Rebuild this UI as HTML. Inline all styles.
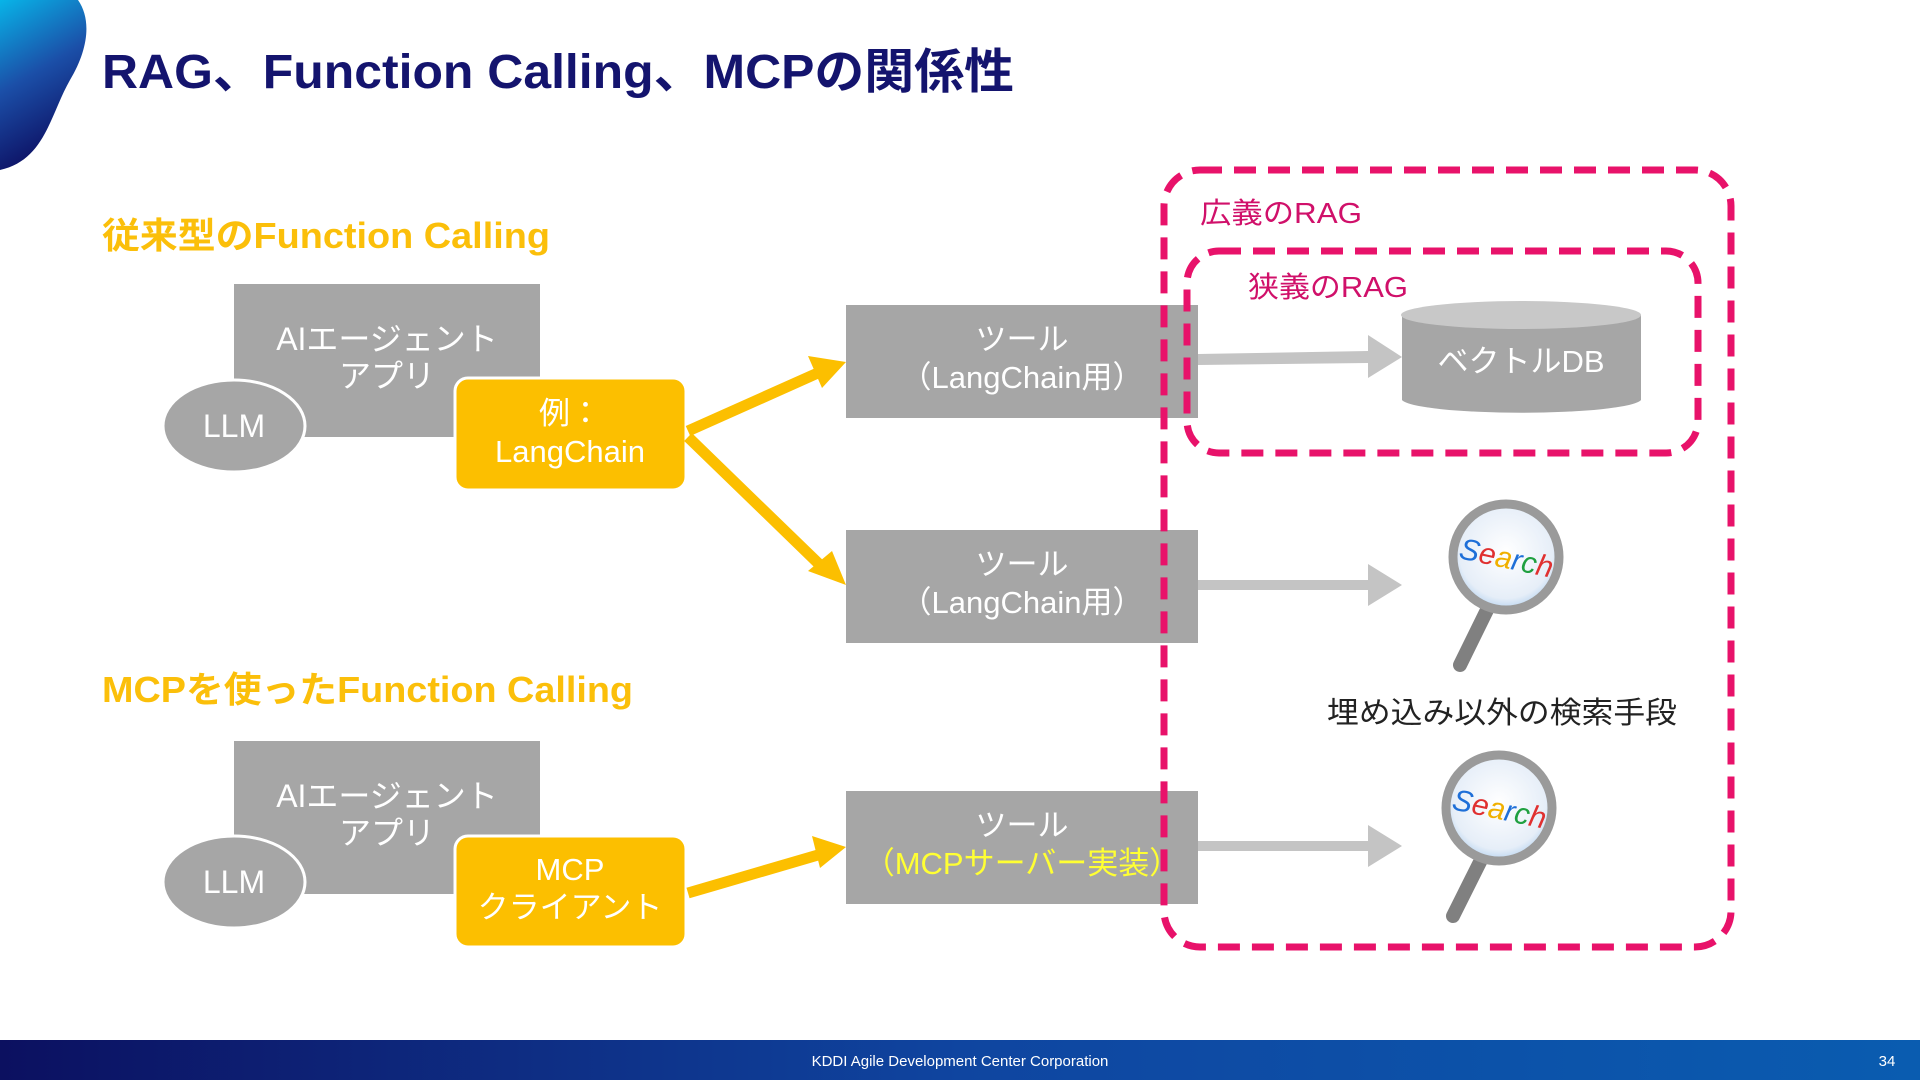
<!DOCTYPE html>
<html><head><meta charset="utf-8">
<style>
html,body{margin:0;padding:0;background:#fff;}
svg{display:block;font-family:"Liberation Sans","Noto Sans CJK JP",sans-serif;}
</style></head><body>
<svg width="1920" height="1080" viewBox="0 0 1920 1080" xmlns="http://www.w3.org/2000/svg">
<defs>
<linearGradient id="blob" x1="0" y1="0" x2="0.3" y2="1"><stop offset="0" stop-color="#08b4e8"/><stop offset="0.5" stop-color="#1b4fa8"/><stop offset="1" stop-color="#0d0f62"/></linearGradient>
<linearGradient id="foot" x1="0" y1="0" x2="1" y2="0"><stop offset="0" stop-color="#0c1060"/><stop offset="0.5" stop-color="#0f45a0"/><stop offset="1" stop-color="#0a5cb0"/></linearGradient>
<radialGradient id="lens" cx="0.5" cy="0.45" r="0.55"><stop offset="0" stop-color="#ffffff"/><stop offset="0.8" stop-color="#e6eef8"/><stop offset="1" stop-color="#b8d4f0"/></radialGradient>
</defs>
<path d="M0,0 L78,0 C92,20 88,50 70,80 C50,115 45,160 0,170 Z" fill="url(#blob)"/>
<text x="102" y="88" font-size="48" font-weight="bold" fill="#14146e" textLength="912" lengthAdjust="spacingAndGlyphs">RAG、Function Calling、MCPの関係性</text>

<text x="102" y="248" font-size="36" font-weight="bold" fill="#fbbf0a" textLength="448" lengthAdjust="spacingAndGlyphs">従来型のFunction Calling</text>
<text x="102" y="702" font-size="36" font-weight="bold" fill="#fbbf0a" textLength="531" lengthAdjust="spacingAndGlyphs">MCPを使ったFunction Calling</text>

<rect x="234" y="284" width="306" height="153" fill="#a6a6a6"/>
<text x="387" y="350" font-size="32" fill="#fff" text-anchor="middle">AIエージェント</text>
<text x="387" y="387" font-size="32" fill="#fff" text-anchor="middle">アプリ</text>
<ellipse cx="234" cy="426" rx="71" ry="46" fill="#a6a6a6" stroke="#fff" stroke-width="3"/>
<text x="234" y="437" font-size="32" fill="#fff" text-anchor="middle">LLM</text>
<rect x="455" y="378" width="231" height="112" rx="13" fill="#fcbf00" stroke="#fff" stroke-width="3"/>
<text x="570" y="424" font-size="31" fill="#fff" text-anchor="middle">例：</text>
<text x="570" y="462" font-size="31" fill="#fff" text-anchor="middle">LangChain</text>

<rect x="234" y="741" width="306" height="153" fill="#a6a6a6"/>
<text x="387" y="807" font-size="32" fill="#fff" text-anchor="middle">AIエージェント</text>
<text x="387" y="844" font-size="32" fill="#fff" text-anchor="middle">アプリ</text>
<ellipse cx="234" cy="882" rx="71" ry="46" fill="#a6a6a6" stroke="#fff" stroke-width="3"/>
<text x="234" y="893" font-size="32" fill="#fff" text-anchor="middle">LLM</text>
<rect x="455" y="836" width="231" height="111" rx="13" fill="#fcbf00" stroke="#fff" stroke-width="3"/>
<text x="570" y="880" font-size="31" fill="#fff" text-anchor="middle">MCP</text>
<text x="570" y="918" font-size="31" fill="#fff" text-anchor="middle">クライアント</text>

<g stroke="#fcbf00" stroke-width="11" fill="none">
<line x1="688" y1="431" x2="820" y2="372"/>
<line x1="688" y1="437" x2="820" y2="565"/>
<line x1="688" y1="893" x2="818" y2="855"/>
</g>
<polygon points="846,362 808,356 822,388" fill="#fcbf00"/>
<polygon points="846,585 808,571 832,551" fill="#fcbf00"/>
<polygon points="846,847 812,836 820,868" fill="#fcbf00"/>

<rect x="846" y="305" width="352" height="113" fill="#a6a6a6"/>
<text x="1022" y="350" font-size="31" fill="#fff" text-anchor="middle">ツール</text>
<text x="1022" y="388" font-size="31" fill="#fff" text-anchor="middle">（LangChain用）</text>
<rect x="846" y="530" width="352" height="113" fill="#a6a6a6"/>
<text x="1022" y="575" font-size="31" fill="#fff" text-anchor="middle">ツール</text>
<text x="1022" y="613" font-size="31" fill="#fff" text-anchor="middle">（LangChain用）</text>
<rect x="846" y="791" width="352" height="113" fill="#a6a6a6"/>
<text x="1022" y="836" font-size="31" fill="#fff" text-anchor="middle">ツール</text>
<text x="1022" y="874" font-size="31" fill="#ffff33" text-anchor="middle">（MCPサーバー実装）</text>

<g fill="#c4c4c4">
<polygon points="1198,354 1368,351 1368,335 1402,357 1368,378 1368,363 1198,365"/>
<polygon points="1198,580 1368,580 1368,564 1402,585 1368,606 1368,590 1198,590"/>
<polygon points="1198,841 1368,841 1368,825 1402,846 1368,867 1368,851 1198,851"/>
</g>

<path d="M1402,315 L1402,400 A120,14 0 0 0 1641,400 L1641,315 Z" fill="#a6a6a6"/>
<ellipse cx="1521" cy="315" rx="120" ry="14" fill="#c8c8c8"/>
<text x="1521" y="372" font-size="31" fill="#fff" text-anchor="middle">ベクトルDB</text>

<g>
<line x1="1487" y1="610" x2="1460" y2="665" stroke="#808080" stroke-width="14" stroke-linecap="round"/>
<circle cx="1506" cy="557" r="53" fill="url(#lens)" stroke="#9a9a9a" stroke-width="9"/>
<text x="1506" y="568" font-size="30" font-style="italic" text-anchor="middle" transform="rotate(12 1506 560)"><tspan fill="#1e6fd8">S</tspan><tspan fill="#e03030">e</tspan><tspan fill="#f0b000">a</tspan><tspan fill="#1e6fd8">r</tspan><tspan fill="#20a040">c</tspan><tspan fill="#e03030">h</tspan></text>
</g>
<g>
<line x1="1481" y1="860" x2="1453" y2="916" stroke="#808080" stroke-width="14" stroke-linecap="round"/>
<circle cx="1499" cy="808" r="53" fill="url(#lens)" stroke="#9a9a9a" stroke-width="9"/>
<text x="1499" y="819" font-size="30" font-style="italic" text-anchor="middle" transform="rotate(12 1499 811)"><tspan fill="#1e6fd8">S</tspan><tspan fill="#e03030">e</tspan><tspan fill="#f0b000">a</tspan><tspan fill="#1e6fd8">r</tspan><tspan fill="#20a040">c</tspan><tspan fill="#e03030">h</tspan></text>
</g>
<text x="1502" y="723" font-size="30" fill="#222" text-anchor="middle" textLength="350" lengthAdjust="spacingAndGlyphs">埋め込み以外の検索手段</text>

<rect x="1164" y="170" width="567" height="777" rx="36" fill="none" stroke="#e8126a" stroke-width="7" stroke-dasharray="22,12"/>
<rect x="1187" y="251" width="511" height="202" rx="32" fill="none" stroke="#e8126a" stroke-width="7" stroke-dasharray="22,12"/>
<text x="1200" y="223" font-size="29" fill="#d0106a" textLength="162" lengthAdjust="spacingAndGlyphs">広義のRAG</text>
<text x="1248" y="297" font-size="29" fill="#d0106a" textLength="160" lengthAdjust="spacingAndGlyphs">狭義のRAG</text>

<rect x="0" y="1040" width="1920" height="40" fill="url(#foot)"/>
<text x="960" y="1066" font-size="15" fill="#fff" text-anchor="middle">KDDI Agile Development Center Corporation</text>
<text x="1887" y="1066" font-size="15" fill="#fff" text-anchor="middle">34</text>
</svg>
</body></html>
